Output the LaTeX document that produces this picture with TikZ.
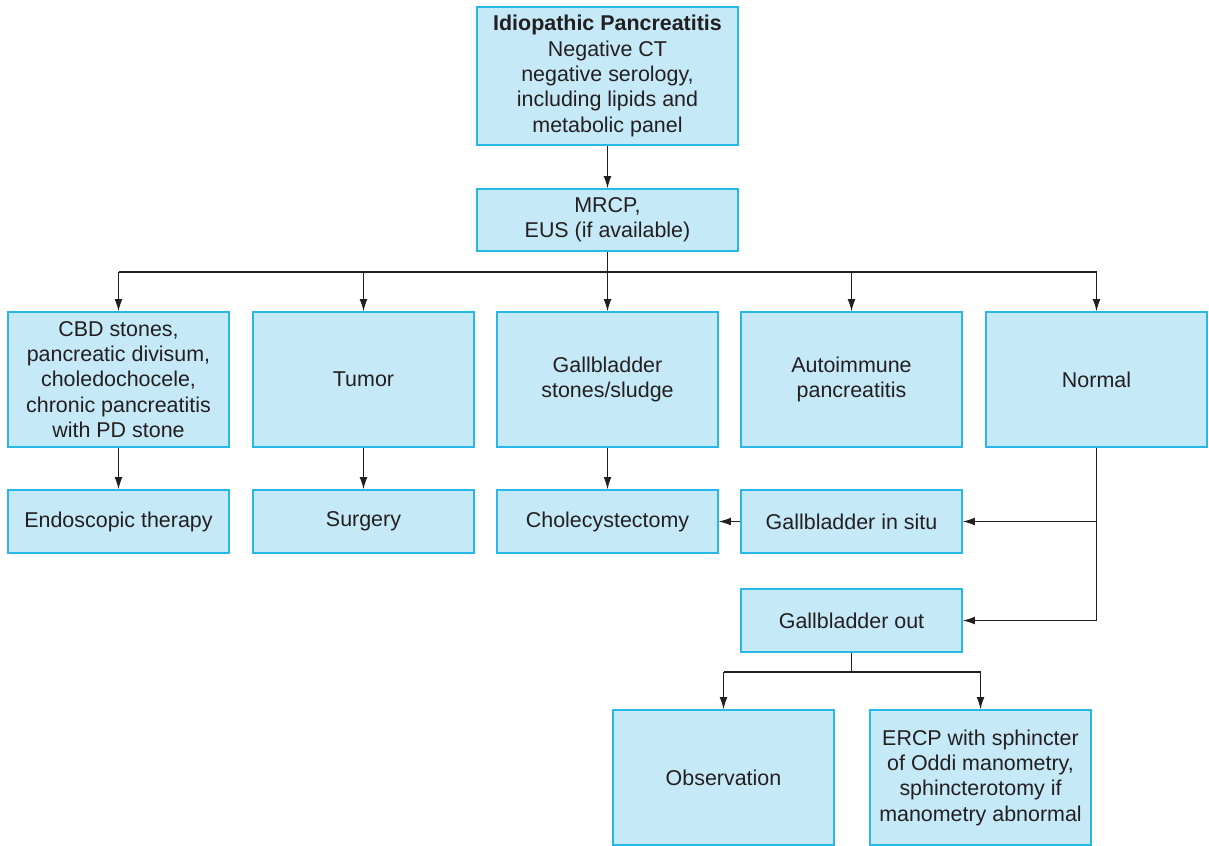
\documentclass[tikz,border=0pt]{standalone}
\usepackage{fontspec}
\setmainfont{Liberation Sans}
\usetikzlibrary{arrows.meta, positioning}
\tikzset{every node/.append style={align=center}}
\definecolor{boxfill}{RGB}{198,233,248}
\definecolor{boxline}{RGB}{41,183,234}
\definecolor{inkgray}{RGB}{35,31,32}

\begin{document}
\begin{tikzpicture}[x=0.02cm, y=-0.02cm,
  flowbox/.style={draw=boxline, fill=boxfill, line width=0.8pt, text=inkgray,
                  font=\fontsize{12.2}{14.4}\selectfont, inner sep=0pt,
                  minimum width=4.42cm, minimum height=2.7cm},
  shortbox/.style={flowbox, minimum height=1.26cm},
  link/.style={-{Latex[length=7pt,width=4.5pt]}, line width=0.7pt, draw=inkgray}]

\useasboundingbox (0,0) rectangle (1209,845);

% ── Top of the chart ─────────────────────────────────────────────────────────
\node[flowbox, minimum width=5.22cm, minimum height=2.76cm] (start) at (607.5,76)
     {\textbf{Idiopathic Pancreatitis}\\Negative CT\\negative serology,\\including lipids and\\metabolic panel};
\node[shortbox, minimum width=5.22cm, minimum height=1.24cm] (mrcp) at (607.5,220)
     {MRCP,\\EUS (if available)};
\draw[link] (start) -- (mrcp);

% ── Imaging findings ─────────────────────────────────────────────────────────
\coordinate (split) at (607.5,272);
\draw[line width=0.7pt, inkgray] (mrcp.south) -- (split);
\foreach \nm/\x/\txt in {stones/118.5/{CBD stones,\\pancreatic divisum,\\choledochocele,\\chronic pancreatitis\\with PD stone},
                         tumor/363.5/Tumor,
                         gbstones/607.5/{Gallbladder\\stones/sludge},
                         autoimm/851.5/{Autoimmune\\pancreatitis},
                         normal/1096.5/Normal} {
  \node[flowbox] (\nm) at (\x,379.5) {\txt};
  \draw[link] (split -| \nm.north) -- (\nm.north);
}
\draw[line width=0.7pt, inkgray] (split -| stones.north) -- (split -| normal.north);

% ── Treatments ───────────────────────────────────────────────────────────────
\foreach \nm/\x/\txt/\from in {endo/118.5/Endoscopic therapy/stones,
                               surgery/363.5/Surgery/tumor,
                               chole/607.5/Cholecystectomy/gbstones} {
  \node[shortbox] (\nm) at (\x,521.5) {\txt};
  \draw[link] (\from) -- (\nm);
}
\node[shortbox] (insitu) at (851.5,521.5) {Gallbladder in situ};
\node[shortbox] (gbout) at (851.5,620.5) {Gallbladder out};
\draw[link] (insitu) -- (chole);
\draw[link] (normal.south) |- (gbout.east);
\draw[link] (normal.south |- insitu.east) -- (insitu.east);

% ── After cholecystectomy ────────────────────────────────────────────────────
\node[flowbox] (observe) at (723.5,777.5) {Observation};
\node[flowbox] (ercp) at (980.5,777.5)
     {ERCP with sphincter\\of Oddi manometry,\\sphincterotomy if\\manometry abnormal};
\coordinate (osplit) at (851.5,672);
\draw[line width=0.7pt, inkgray] (gbout.south) -- (osplit);
\draw[line width=0.7pt, inkgray] (osplit -| observe.north) -- (osplit -| ercp.north);
\draw[link] (osplit -| observe.north) -- (observe.north);
\draw[link] (osplit -| ercp.north) -- (ercp.north);

\end{tikzpicture}
\end{document}
